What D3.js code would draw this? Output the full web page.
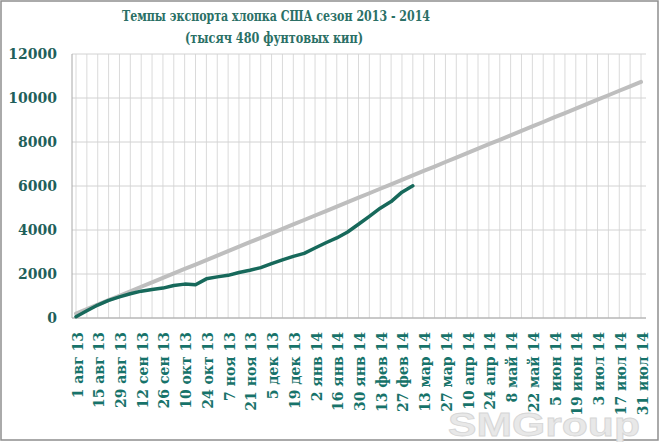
<!DOCTYPE html>
<html>
<head>
<meta charset="utf-8">
<script src="https://cdn.jsdelivr.net/npm/d3@7"></script>
<style>
  html, body { margin: 0; padding: 0; background: #fff; }
  svg { display: block; }
</style>
</head>
<body>
<svg id="chart" width="661" height="442"></svg>
<script>
// ---- data ----
const categories = [
  "1 авг 13","8 авг 13","15 авг 13","22 авг 13","29 авг 13",
  "5 сен 13","12 сен 13","19 сен 13","26 сен 13",
  "3 окт 13","10 окт 13","17 окт 13","24 окт 13","31 окт 13",
  "7 ноя 13","14 ноя 13","21 ноя 13","28 ноя 13",
  "5 дек 13","12 дек 13","19 дек 13","26 дек 13",
  "2 янв 14","9 янв 14","16 янв 14","23 янв 14","30 янв 14",
  "6 фев 14","13 фев 14","20 фев 14","27 фев 14",
  "6 мар 14","13 мар 14","20 мар 14","27 мар 14",
  "3 апр 14","10 апр 14","17 апр 14","24 апр 14",
  "1 май 14","8 май 14","15 май 14","22 май 14","29 май 14",
  "5 июн 14","12 июн 14","19 июн 14","26 июн 14",
  "3 июл 14","10 июл 14","17 июл 14","24 июл 14","31 июл 14"
];
const tickLabels = [
  "1 авг 13","15 авг 13","29 авг 13","12 сен 13","26 сен 13","10 окт 13","24 окт 13",
  "7 ноя 13","21 ноя 13","5 дек 13","19 дек 13","2 янв 14","16 янв 14","30 янв 14",
  "13 фев 14","27 фев 14","13 мар 14","27 мар 14","10 апр 14","24 апр 14","8 май 14",
  "22 май 14","5 июн 14","19 июн 14","3 июл 14","17 июл 14","31 июл 14"
];
// projected pace (grey)
const paceValues = [
  200,400,610,810,1010,1215,1420,1620,1825,2025,2230,2430,2635,2835,3040,3240,
  3445,3645,3850,4050,4255,4455,4660,4860,5065,5265,5470,5670,5875,6075,6280,6480,
  6685,6885,7090,7290,7495,7695,7900,8100,8305,8505,8710,8910,9115,9315,9520,9720,
  9925,10125,10330,10530,10730
];
// actual exports (green)
const exportValues = [
  60,330,590,800,960,1100,1220,1300,1360,1480,1540,1510,1780,1870,1940,2070,
  2170,2290,2470,2640,2800,2940,3180,3420,3640,3910,4260,4620,4990,5290,5720,6010
];
const yTicks = [0,2000,4000,6000,8000,10000,12000];

// ---- layout ----
const svg = d3.select("#chart");
const plot = { left: 72, right: 646, top: 54, bottom: 318 };

const x = d3.scalePoint().domain(categories).range([76, 641]);
const y = d3.scaleLinear().domain([0, 12000]).range([plot.bottom, plot.top]);

// background & border
svg.append("rect").attr("x", 1).attr("y", 1).attr("width", 657).attr("height", 439)
  .attr("fill", "#fff").attr("stroke", "#8e8e8e").attr("stroke-width", 1.5);

// watermark
svg.append("text")
  .attr("x", 448).attr("y", 436)
  .attr("textLength", 192).attr("lengthAdjust", "spacingAndGlyphs")
  .style("font-family", "'Liberation Sans', Arial, sans-serif")
  .style("font-weight", "bold").style("font-size", "33px")
  .attr("fill", "#e8e8e8").attr("stroke", "#d6d6d6").attr("stroke-width", 0.8)
  .text("SMGroup");

// vertical gridlines
svg.append("g").selectAll("line").data(categories).join("line")
  .attr("x1", d => x(d)).attr("x2", d => x(d))
  .attr("y1", plot.top).attr("y2", plot.bottom)
  .attr("stroke", "#dadada").attr("stroke-width", 1);

// horizontal gridlines
svg.append("g").selectAll("line").data(yTicks).join("line")
  .attr("x1", plot.left).attr("x2", plot.right)
  .attr("y1", d => y(d)).attr("y2", d => y(d))
  .attr("stroke", "#d2d2d2").attr("stroke-width", 1);

// axis lines
svg.append("line").attr("x1", plot.left).attr("x2", plot.left)
  .attr("y1", plot.top).attr("y2", plot.bottom).attr("stroke", "#a8a8a8");
svg.append("line").attr("x1", plot.left).attr("x2", plot.right)
  .attr("y1", plot.bottom).attr("y2", plot.bottom).attr("stroke", "#a8a8a8");

// lines
const line = d3.line().x((d, i) => x(categories[i])).y(d => y(d));
svg.append("path").datum(paceValues).attr("d", line)
  .attr("fill", "none").attr("stroke", "#bebebe").attr("stroke-width", 4)
  .attr("stroke-linecap", "round").attr("stroke-linejoin", "round");
svg.append("path").datum(exportValues).attr("d", line)
  .attr("fill", "none").attr("stroke", "#17695b").attr("stroke-width", 3.5)
  .attr("stroke-linecap", "round").attr("stroke-linejoin", "round");

// y axis
const yAxis = svg.append("g").attr("transform", `translate(${plot.left},0)`)
  .call(d3.axisLeft(y).tickValues(yTicks).tickSize(0).tickPadding(15).tickFormat(d3.format("d")));
yAxis.select(".domain").remove();
yAxis.selectAll("text")
  .style("font-family", "'DejaVu Serif', serif").style("font-weight", "bold")
  .style("font-size", "14px").attr("fill", "#1f5f5b");

// x axis
const xAxis = svg.append("g").attr("transform", `translate(0,${plot.bottom})`)
  .call(d3.axisBottom(x).tickValues(tickLabels).tickSize(0));
xAxis.select(".domain").remove();
xAxis.selectAll("text")
  .attr("transform", "rotate(-90)")
  .attr("text-anchor", "end")
  .attr("x", -14).attr("y", 0).attr("dy", 6)
  .style("font-family", "'DejaVu Serif', serif").style("font-weight", "bold")
  .style("font-size", "14px").attr("fill", "#17736a");

// title
const title = svg.append("g")
  .style("font-family", "'DejaVu Serif', serif").style("font-weight", "bold")
  .style("font-size", "15px").attr("fill", "#2b7066");
title.append("text").attr("x", 276).attr("y", 21).attr("text-anchor", "middle")
  .attr("textLength", 308).attr("lengthAdjust", "spacingAndGlyphs")
  .text("Темпы экспорта хлопка США сезон 2013 - 2014");
title.append("text").attr("x", 274).attr("y", 43).attr("text-anchor", "middle")
  .attr("textLength", 178).attr("lengthAdjust", "spacingAndGlyphs")
  .text("(тысяч 480 фунтовых кип)");
</script>
</body>
</html>
